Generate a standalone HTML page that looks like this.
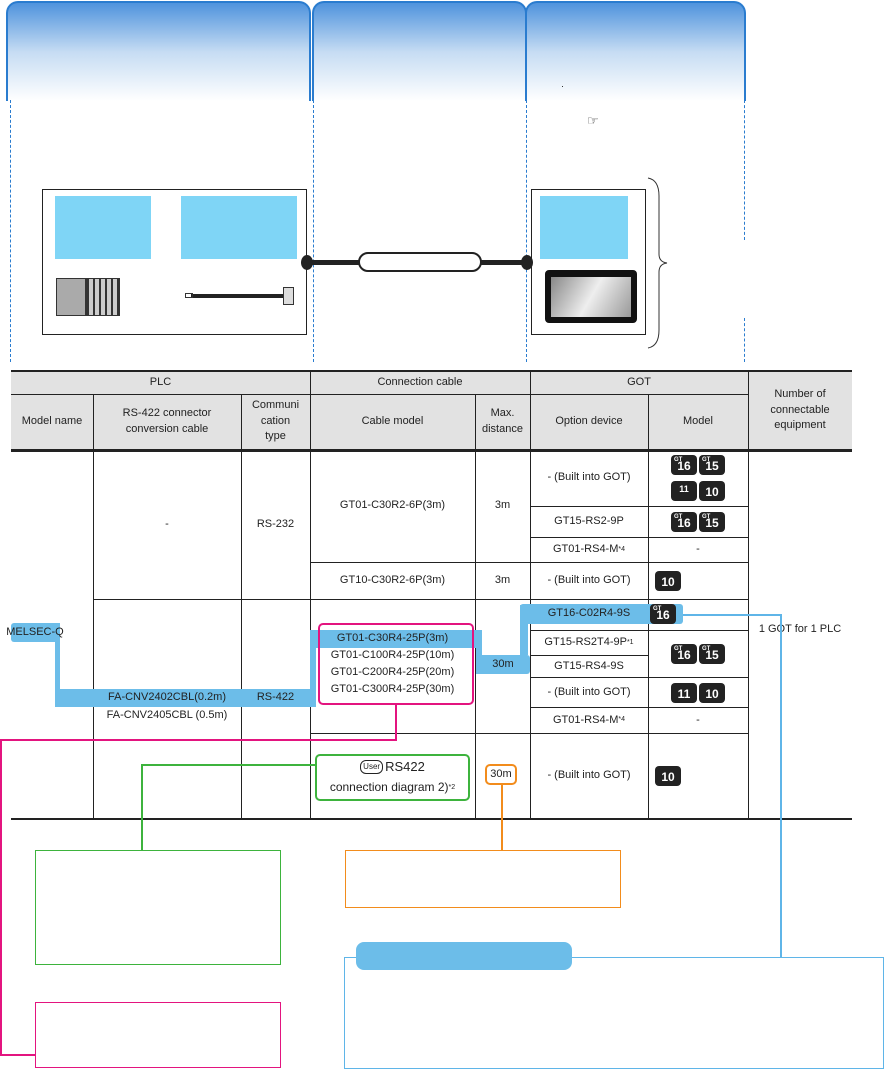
<!DOCTYPE html>
<html><head><meta charset="utf-8"><style>
*{margin:0;padding:0;box-sizing:border-box}
body{width:884px;height:1070px;position:relative;background:#fff;font-family:"Liberation Sans",sans-serif;font-size:11px;color:#222;overflow:hidden}
.a{position:absolute}
.t{position:absolute;display:flex;align-items:center;justify-content:center;text-align:center;line-height:1.45;white-space:nowrap}
.tab{position:absolute;top:1px;height:100px;border:2px solid #2a7ccf;border-bottom:none;border-radius:12px 12px 0 0;background:linear-gradient(#4f93dd,#c6dcf3 50%,#fff 100%)}
.dl{position:absolute;width:0;border-left:1.5px dashed #2a7ccf;top:100px;height:262px}
.bl{position:absolute;background:#7fd5f6}
.h{position:absolute;background:#222}
.v{position:absolute;background:#222;width:1px}
.hl{position:absolute;background:#6cbde9}
.ic{display:inline-block;background:#222;color:#fff;border-radius:4px;font-weight:bold;font-size:12px;height:20px;line-height:23px;padding:0 3px;margin:1px;position:relative;min-width:26px;text-align:center}
.ic sup{position:absolute;left:3px;top:-6px;font-size:6px}
</style></head><body>
<div class="tab" style="left:6px;width:305px"></div>
<div class="tab" style="left:312px;width:215px"></div>
<div class="tab" style="left:525px;width:221px"></div>
<div class="dl" style="left:10px"></div><div class="dl" style="left:313px"></div><div class="dl" style="left:526px"></div><div class="dl" style="left:744px;height:140px"></div><div class="dl" style="left:744px;top:318px;height:44px"></div>
<div class="a" style="left:562px;top:86px;width:1px;height:1px;background:#333"></div>
<div class="a" style="left:587px;top:113px;font-size:13px">☞</div>
<!-- PLC box -->
<div class="a" style="left:42px;top:189px;width:265px;height:146px;border:1px solid #222"></div>
<div class="bl" style="left:55px;top:196px;width:96px;height:63px"></div>
<div class="bl" style="left:181px;top:196px;width:116px;height:63px"></div>
<div class="a" style="left:56px;top:278px;width:30px;height:38px;background:#aaa;border:1px solid #333"></div>
<div class="a" style="left:86px;top:278px;width:34px;height:38px;background:repeating-linear-gradient(90deg,#333 0 2px,#ccc 2px 6px);border:1px solid #333"></div>
<div class="a" style="left:191px;top:294px;width:93px;height:4px;background:#222"></div>
<div class="a" style="left:185px;top:293px;width:8px;height:5px;border:1px solid #333"></div>
<div class="a" style="left:283px;top:287px;width:11px;height:18px;background:#ddd;border:1px solid #333"></div>
<!-- cable -->
<div class="a" style="left:307px;top:260px;width:220px;height:5px;background:#222"></div>
<div class="a" style="left:301px;top:255px;width:12px;height:15px;border-radius:50%;background:#222"></div>
<div class="a" style="left:521px;top:255px;width:12px;height:15px;border-radius:50%;background:#222"></div>
<div class="a" style="left:358px;top:252px;width:124px;height:20px;border:2px solid #222;border-radius:10px;background:#fff"></div>
<!-- GOT box -->
<div class="a" style="left:531px;top:189px;width:115px;height:146px;border:1px solid #222"></div>
<div class="bl" style="left:540px;top:196px;width:88px;height:63px"></div>
<div class="a" style="left:545px;top:270px;width:92px;height:53px;background:#111;border-radius:4px"></div>
<div class="a" style="left:551px;top:277px;width:80px;height:40px;background:linear-gradient(120deg,#888,#eee 50%,#999)"></div>
<svg class="a" style="left:645px;top:176px" width="30" height="174"><path d="M3 2 Q14 4 14 20 L14 78 Q14 86 22 87 Q14 88 14 96 L14 154 Q14 170 3 172" fill="none" stroke="#333" stroke-width="1"/></svg>
<!-- table header -->
<div class="a" style="left:11px;top:371px;width:841px;height:79px;background:#e2e2e2"></div>
<div class="h" style="left:11px;top:370px;width:841px;height:2px"></div>
<div class="h" style="left:11px;top:394px;width:737px;height:1px"></div>
<div class="h" style="left:11px;top:449px;width:841px;height:3px"></div>
<div class="h" style="left:11px;top:818px;width:841px;height:2px"></div>
<div class="v" style="left:93px;top:394px;height:424px"></div>
<div class="v" style="left:241px;top:394px;height:424px"></div>
<div class="v" style="left:310px;top:371px;height:447px"></div>
<div class="v" style="left:475px;top:394px;height:424px"></div>
<div class="v" style="left:530px;top:371px;height:447px"></div>
<div class="v" style="left:648px;top:394px;height:424px"></div>
<div class="v" style="left:748px;top:371px;height:447px"></div>
<div class="t" style="left:11px;top:371px;width:299px;height:23px">PLC</div>
<div class="t" style="left:310px;top:371px;width:220px;height:23px">Connection cable</div>
<div class="t" style="left:530px;top:371px;width:218px;height:23px">GOT</div>
<div class="t" style="left:748px;top:371px;width:104px;height:79px">Number of<br>connectable<br>equipment</div>
<div class="t" style="left:11px;top:394px;width:82px;height:55px">Model name</div>
<div class="t" style="left:93px;top:394px;width:148px;height:55px">RS-422 connector<br>conversion cable</div>
<div class="t" style="left:241px;top:394px;width:69px;height:55px">Communi<br>cation<br>type</div>
<div class="t" style="left:310px;top:394px;width:165px;height:55px">Cable model</div>
<div class="t" style="left:475px;top:394px;width:55px;height:55px">Max.<br>distance</div>
<div class="t" style="left:530px;top:394px;width:118px;height:55px">Option device</div>
<div class="t" style="left:648px;top:394px;width:100px;height:55px">Model</div>
<!-- body lines -->
<div class="h" style="left:530px;top:506px;width:218px;height:1px"></div>
<div class="h" style="left:530px;top:537px;width:218px;height:1px"></div>
<div class="h" style="left:310px;top:562px;width:438px;height:1px"></div>
<div class="h" style="left:93px;top:599px;width:655px;height:1px"></div>
<div class="h" style="left:530px;top:630px;width:218px;height:1px"></div>
<div class="h" style="left:530px;top:655px;width:118px;height:1px"></div>
<div class="h" style="left:530px;top:677px;width:218px;height:1px"></div>
<div class="h" style="left:530px;top:707px;width:218px;height:1px"></div>
<div class="h" style="left:310px;top:733px;width:438px;height:1px"></div>
<!-- highlights -->
<div class="hl" style="left:11px;top:623px;width:48px;height:19px;border-radius:3px"></div>
<div class="hl" style="left:55px;top:623px;width:5px;height:84px"></div>
<div class="hl" style="left:55px;top:689px;width:261px;height:18px;border-radius:3px"></div>
<div class="hl" style="left:310px;top:630px;width:6px;height:77px"></div>
<div class="hl" style="left:310px;top:630px;width:171px;height:18px;border-radius:3px"></div>
<div class="hl" style="left:476px;top:630px;width:6px;height:44px"></div>
<div class="hl" style="left:476px;top:655px;width:54px;height:19px;border-radius:3px"></div>
<div class="hl" style="left:520px;top:605px;width:8px;height:50px"></div>
<div class="hl" style="left:520px;top:604px;width:163px;height:20px;border-radius:3px"></div>
<!-- body text -->
<div class="t" style="left:93px;top:450px;width:148px;height:149px">-</div>
<div class="t" style="left:241px;top:450px;width:69px;height:149px">RS-232</div>
<div class="t" style="left:310px;top:450px;width:165px;height:112px">GT01-C30R2-6P(3m)</div>
<div class="t" style="left:475px;top:450px;width:55px;height:112px">3m</div>
<div class="t" style="left:530px;top:450px;width:118px;height:56px">- (Built into GOT)</div>
<div class="t" style="left:648px;top:450px;width:100px;height:56px;flex-wrap:wrap;white-space:normal;padding:2px 14px"><span class="ic"><sup>GT</sup>16</span><span class="ic"><sup>GT</sup>15</span><span class="ic" style="font-size:9px;line-height:16px">11</span><span class="ic">10</span></div>
<div class="t" style="left:530px;top:507px;width:118px;height:30px">GT15-RS2-9P</div>
<div class="t" style="left:648px;top:507px;width:100px;height:30px"><span class="ic"><sup>GT</sup>16</span><span class="ic"><sup>GT</sup>15</span></div>
<div class="t" style="left:530px;top:538px;width:118px;height:24px">GT01-RS4-M<sup style="font-size:7px">*4</sup></div>
<div class="t" style="left:648px;top:538px;width:100px;height:24px">-</div>
<div class="t" style="left:310px;top:563px;width:165px;height:36px">GT10-C30R2-6P(3m)</div>
<div class="t" style="left:475px;top:563px;width:55px;height:36px">3m</div>
<div class="t" style="left:530px;top:563px;width:118px;height:36px">- (Built into GOT)</div>
<div class="t" style="left:648px;top:563px;width:100px;height:36px;justify-content:flex-start;padding-left:6px"><span class="ic">10</span></div>
<div class="t" style="left:11px;top:623px;width:48px;height:19px">MELSEC-Q</div>
<div class="t" style="left:93px;top:689px;width:148px;height:18px">FA-CNV2402CBL(0.2m)</div>
<div class="t" style="left:93px;top:707px;width:148px;height:18px">FA-CNV2405CBL (0.5m)</div>
<div class="t" style="left:241px;top:689px;width:69px;height:18px">RS-422</div>
<div class="a" style="left:318px;top:623px;width:156px;height:82px;border:2px solid #e3147f;border-radius:5px"></div>
<div class="t" style="left:310px;top:630px;width:165px;height:18px">GT01-C30R4-25P(3m)</div>
<div class="t" style="left:310px;top:647px;width:165px;height:17px">GT01-C100R4-25P(10m)</div>
<div class="t" style="left:310px;top:664px;width:165px;height:17px">GT01-C200R4-25P(20m)</div>
<div class="t" style="left:310px;top:681px;width:165px;height:17px">GT01-C300R4-25P(30m)</div>
<div class="t" style="left:476px;top:655px;width:54px;height:19px">30m</div>
<div class="t" style="left:530px;top:604px;width:118px;height:20px">GT16-C02R4-9S</div>
<div class="t" style="left:648px;top:604px;width:30px;height:20px"><span class="ic"><sup>GT</sup>16</span></div>
<div class="t" style="left:530px;top:631px;width:118px;height:24px">GT15-RS2T4-9P<sup style="font-size:7px">*1</sup></div>
<div class="t" style="left:530px;top:656px;width:118px;height:21px">GT15-RS4-9S</div>
<div class="t" style="left:648px;top:631px;width:100px;height:46px"><span class="ic"><sup>GT</sup>16</span><span class="ic"><sup>GT</sup>15</span></div>
<div class="t" style="left:530px;top:678px;width:118px;height:29px">- (Built into GOT)</div>
<div class="t" style="left:648px;top:678px;width:100px;height:29px"><span class="ic">11</span><span class="ic">10</span></div>
<div class="t" style="left:530px;top:708px;width:118px;height:25px">GT01-RS4-M<sup style="font-size:7px">*4</sup></div>
<div class="t" style="left:648px;top:708px;width:100px;height:25px">-</div>
<div class="t" style="left:748px;top:620px;width:104px;height:20px">1 GOT for 1 PLC</div>
<div class="a" style="left:315px;top:754px;width:155px;height:47px;border:2px solid #3db33d;border-radius:5px"></div>
<div class="t" style="left:315px;top:756px;width:155px;height:22px;font-size:13px"><span style="border:1px solid #222;border-radius:6px;font-size:8px;padding:0 2px;margin-right:2px">User</span>RS422</div>
<div class="t" style="left:315px;top:777px;width:155px;height:22px;font-size:12px">connection diagram 2)<sup style="font-size:7px">*2</sup></div>
<div class="a" style="left:485px;top:764px;width:32px;height:21px;border:2px solid #f28c1c;border-radius:5px"></div>
<div class="t" style="left:485px;top:764px;width:32px;height:21px">30m</div>
<div class="t" style="left:530px;top:734px;width:118px;height:84px">- (Built into GOT)</div>
<div class="t" style="left:648px;top:734px;width:100px;height:84px;justify-content:flex-start;padding-left:6px"><span class="ic">10</span></div>
<!-- connectors -->
<div class="a" style="left:395px;top:705px;width:2px;height:36px;background:#e3147f"></div>
<div class="a" style="left:0;top:739px;width:397px;height:2px;background:#e3147f"></div>
<div class="a" style="left:0;top:739px;width:2px;height:317px;background:#e3147f"></div>
<div class="a" style="left:0;top:1054px;width:35px;height:2px;background:#e3147f"></div>
<div class="a" style="left:141px;top:764px;width:174px;height:1.5px;background:#3db33d"></div>
<div class="a" style="left:141px;top:764px;width:1.5px;height:86px;background:#3db33d"></div>
<div class="a" style="left:501px;top:785px;width:1.5px;height:65px;background:#f28c1c"></div>
<div class="a" style="left:683px;top:614px;width:98px;height:2px;background:#5fb5e8"></div>
<div class="a" style="left:780px;top:614px;width:2px;height:343px;background:#5fb5e8"></div>
<!-- bottom boxes -->
<div class="a" style="left:35px;top:850px;width:246px;height:115px;border:1px solid #3db33d"></div>
<div class="a" style="left:35px;top:1002px;width:246px;height:66px;border:1px solid #e3147f"></div>
<div class="a" style="left:345px;top:850px;width:276px;height:58px;border:1px solid #f28c1c"></div>
<div class="a" style="left:344px;top:957px;width:540px;height:112px;border:1.5px solid #5fb5e8"></div>
<div class="a" style="left:356px;top:942px;width:216px;height:28px;background:#6cbde9;border-radius:8px"></div>
</body></html>
